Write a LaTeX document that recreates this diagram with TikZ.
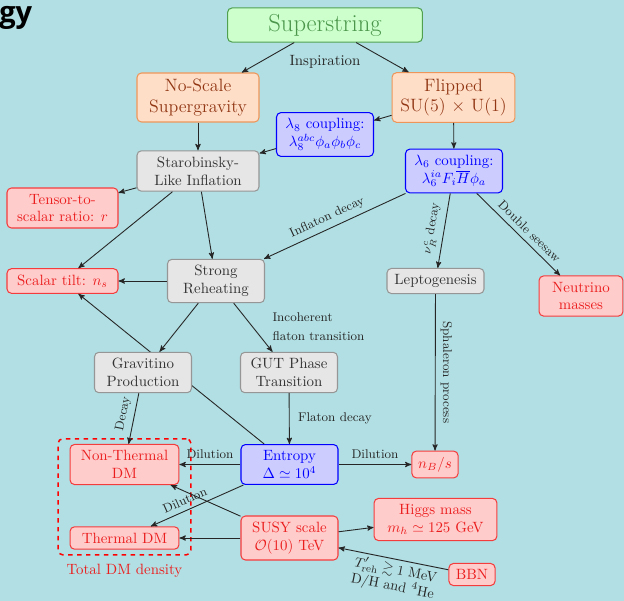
\documentclass[tikz,border=0pt]{standalone}
\usepackage{amsmath}
\usepackage{amssymb}
\usepackage{fontspec}
\usepackage{xcolor}
\usepackage{tikz}
\usetikzlibrary{arrows,positioning,fit}
\tikzset{>=stealth'}

\newfontfamily\slidefont{Open Sans}

\definecolor{slidebg}{RGB}{178,223,227}
\definecolor{strfill}{RGB}{204,255,204}
\definecolor{strdraw}{RGB}{80,160,80}
\definecolor{strtext}{RGB}{75,150,75}
\definecolor{orfill}{RGB}{255,222,200}
\definecolor{ordraw}{RGB}{238,150,90}
\definecolor{ortext}{RGB}{145,55,20}
\definecolor{blfill}{RGB}{204,204,255}
\definecolor{grfill}{RGB}{230,230,230}
\definecolor{grdraw}{RGB}{150,150,150}
\definecolor{rdfill}{RGB}{255,204,204}
\definecolor{rddraw}{RGB}{245,60,60}
\definecolor{rdtext}{RGB}{235,30,30}

\begin{document}
\begin{tikzpicture}[x=0.0236cm, y=-0.0236cm,
                    box/.style={draw, rounded corners=3pt, line width=0.7pt, align=center,
                                inner xsep=3pt, inner ysep=4pt},
                    strbox/.style={box, fill=strfill, draw=strdraw, text=strtext,
                                   font=\fontsize{16.5}{20}\selectfont},
                    orbox/.style={box, fill=orfill, draw=ordraw, text=ortext, font=\large},
                    blbox/.style={box, fill=blfill, draw=blue, text=blue},
                    grbox/.style={box, fill=grfill, draw=grdraw, text=black!80},
                    rdbox/.style={box, fill=rdfill, draw=rddraw, text=rdtext},
                    lbl/.style={font=\fontsize{8.5}{12.5}\selectfont, text=black!85},
                    conn/.style={->, line width=0.6pt, black!85},
                   ]

\useasboundingbox (0,0) rectangle (624,601);
\fill[slidebg] (0,0) rectangle (624,601);

\node[anchor=base west, inner sep=0, font=\slidefont\bfseries\fontsize{19.5}{22}\selectfont] (gy) at (-1,23) {gy};

% top of the tree
\node[strbox, minimum width=4.6cm] (super) at (325,25) {Superstring};
\node[orbox, minimum width=2.88cm] (noscale) at (198,97.5) {No-Scale\\Supergravity};
\node[orbox, minimum width=2.9cm] (flipped) at (453.5,97.5) {Flipped\\SU(5) $\times$ U(1)};
\node[blbox, minimum width=2.29cm] (lameight) at (325,134.5) {$\lambda_8$ coupling:\\$\lambda_8^{abc}\phi_a\phi_b\phi_c$};
\node[blbox, minimum width=2.29cm] (lamsix) at (454,171) {$\lambda_6$ coupling:\\$\lambda_6^{ia}F_i\overline{H}\phi_a$};
\node[grbox, minimum width=2.88cm] (staro) at (198,171) {Starobinsky-\\Like Inflation};

% middle
\node[rdbox, minimum width=2.62cm] (tensor) at (62.5,208) {Tensor-to-\\scalar ratio: $r$};
\node[rdbox, minimum width=2.62cm] (tilt) at (62.5,281) {Scalar tilt: $n_s$};
\node[grbox, minimum width=2.29cm] (reheat) at (216,281) {Strong\\Reheating};
\node[grbox, minimum width=2.29cm] (lepto) at (435.5,281) {Leptogenesis};
\node[rdbox, minimum width=1.98cm] (numass) at (581,296) {Neutrino\\masses};
\node[grbox, minimum width=2.29cm] (gut) at (289,372.5) {GUT Phase\\Transition};

% bottom
\node[rdbox, minimum width=2.57cm] (ntdm) at (124.5,464.5) {Non-Thermal\\DM};
\node[rdbox, minimum width=2.57cm] (tdm) at (124.5,538) {Thermal DM};
\node[blbox, minimum width=2.29cm] (entropy) at (289.5,464.5) {Entropy\\$\Delta\simeq10^4$};
\node[rdbox, minimum width=1.09cm] (nbs) at (435,464.5) {$n_B/s$};
\node[rdbox, minimum width=2.29cm] (susy) at (289.5,538) {SUSY scale\\$\mathcal{O}(10)$ TeV};
\node[rdbox, minimum width=2.9cm] (higgs) at (435.5,519.5) {Higgs mass\\$m_h\simeq125$ GeV};
\node[rdbox, minimum width=1.09cm] (bbn) at (472,574.5) {BBN};

\node[draw=red, dashed, line width=1pt, rounded corners=3pt, inner xsep=0.27cm, inner ysep=0.12cm,
      fit=(ntdm)(tdm)] (totdm) {};
\node[text=rdtext, below=0.08cm of totdm] (totlbl) {Total DM density};

% entropy line runs behind the gravitino box, so it comes first
\draw[conn] (entropy) -- (tilt);
\node[grbox, minimum width=2.29cm] (gravitino) at (143,372.5) {Gravitino\\Production};

\draw[conn] (super) -- (noscale);
\draw[conn] (super) -- (flipped);
\node[lbl, font=\normalsize, below=0.17cm of super] (insp) {Inspiration};

\draw[conn] (noscale) -- (staro);
\draw[conn] (flipped) -- (lameight);
\draw[conn] (flipped) -- (lamsix);
\draw[conn] (lameight) -- (staro);

\draw[conn] (staro) -- (tensor);
\draw[conn] (staro) -- (tilt);
\draw[conn] (staro) -- (reheat);
\draw[conn] (reheat) -- (tilt);

\draw[conn] (lamsix) -- node[lbl, sloped, above, pos=.52] {Inflaton decay} (reheat);
\draw[conn] (lamsix) -- node[lbl, sloped, above, pos=.5] {$\nu^c_R$ decay} (lepto);
\draw[conn] (lamsix) -- node[lbl, sloped, above, pos=.55] {Double seesaw} (numass);
\draw[conn] (lepto) -- node[lbl, rotate=-90, anchor=south, midway] {Sphaleron process} (nbs);

\draw[conn] (reheat) -- (gravitino);
\draw[conn] (reheat) -- node[lbl, align=left, pos=.48, right=0.35cm] {Incoherent\\flaton transition} (gut);
\draw[conn] (gravitino) -- node[lbl, sloped, above, pos=.45] {Decay} (ntdm);
\draw[conn] (gut) -- node[lbl, right=0.08cm] {Flaton decay} (entropy);

\draw[conn] (entropy) -- node[lbl, above] {Dilution} (ntdm);
\draw[conn] (entropy) -- node[lbl, above] {Dilution} (nbs);
\draw[conn] (entropy) -- node[lbl, sloped, above, pos=.59] {Dilution} (tdm);

\draw[conn] (susy) -- (ntdm);
\draw[conn] (susy) -- (tdm);
\draw[conn] (susy) -- (higgs);
\draw[conn] (bbn) -- node[lbl, font=\fontsize{9.5}{11}\selectfont, sloped, below, pos=.46, align=center,
                          inner sep=2pt]
    {$T'_{\rm reh}\gtrsim1$ MeV\\D/H and $^4$He} (susy);

\end{tikzpicture}
\end{document}
